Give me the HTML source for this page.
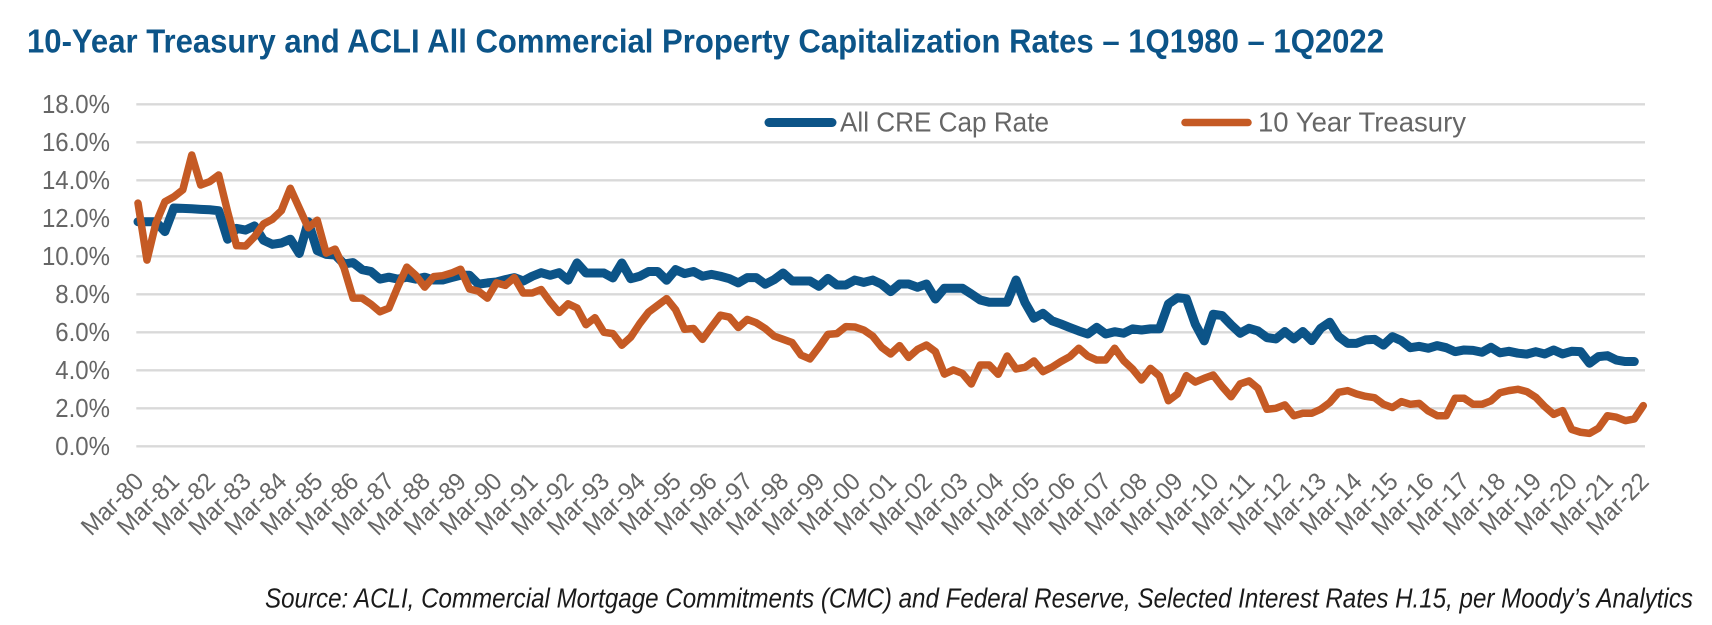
<!DOCTYPE html>
<html lang="en">
<head>
<meta charset="utf-8">
<title>10-Year Treasury and ACLI All Commercial Property Capitalization Rates</title>
<style>
html,body{margin:0;padding:0;background:#fff;width:1712px;height:625px;overflow:hidden}
svg{display:block;font-family:"Liberation Sans",sans-serif}
</style>
</head>
<body>
<svg id="chart" xmlns="http://www.w3.org/2000/svg" width="1712" height="625" viewBox="0 0 1712 625">
  <rect x="0" y="0" width="1712" height="625" fill="#ffffff"/>
  <text x="27" y="52.5" font-size="33" font-weight="700" fill="#0c5488" textLength="1357" lengthAdjust="spacingAndGlyphs">10-Year Treasury and ACLI All Commercial Property Capitalization Rates – 1Q1980 – 1Q2022</text>
  <g id="grid"></g>
  <g id="yaxis"></g>
  <g id="xaxis"></g>
  <g id="series"></g>
  <g>
    <g>
      <line x1="769" y1="122.5" x2="832" y2="122.5" stroke="#0c5488" stroke-width="9" stroke-linecap="round"/>
      <text x="840" y="131.5" font-size="28" fill="#666666" textLength="209" lengthAdjust="spacingAndGlyphs">All CRE Cap Rate</text>
    </g>
    <g>
      <line x1="1185" y1="122.5" x2="1248" y2="122.5" stroke="#c55a24" stroke-width="7.5" stroke-linecap="round"/>
      <text x="1258" y="131.5" font-size="28" fill="#666666" textLength="208" lengthAdjust="spacingAndGlyphs">10 Year Treasury</text>
    </g>
  </g>
  <text x="265" y="607.5" font-size="28" font-style="italic" fill="#1a1a1a" textLength="1428" lengthAdjust="spacingAndGlyphs">Source: ACLI, Commercial Mortgage Commitments (CMC) and Federal Reserve, Selected Interest Rates H.15, per Moody’s Analytics</text>
</svg>
<script>
const capRateValues = [
11.82,11.82,11.82,11.3,12.54,12.52,12.5,12.47,12.45,12.4,
10.9,11.47,11.38,11.6,10.85,10.63,10.7,10.9,10.15,11.82,
10.3,10.1,10.07,9.6,9.67,9.3,9.2,8.8,8.9,8.8,
8.9,8.8,8.9,8.75,8.75,8.88,9.0,9.0,8.53,8.6,
8.65,8.77,8.88,8.7,8.95,9.14,9.0,9.14,8.74,9.65,
9.12,9.12,9.12,8.86,9.65,8.82,8.95,9.2,9.2,8.74,
9.3,9.09,9.2,8.95,9.05,8.95,8.82,8.6,8.88,8.88,
8.53,8.77,9.12,8.7,8.7,8.7,8.42,8.84,8.49,8.49,
8.75,8.63,8.75,8.53,8.14,8.54,8.54,8.37,8.54,7.75,
8.32,8.32,8.32,8.02,7.7,7.58,7.58,7.58,8.75,7.56,
6.74,7.0,6.61,6.44,6.25,6.07,5.91,6.26,5.91,6.03,
5.95,6.18,6.12,6.18,6.18,7.49,7.82,7.77,6.43,5.55,
6.95,6.88,6.39,5.95,6.21,6.07,5.72,5.65,6.04,5.65,
6.04,5.56,6.21,6.53,5.77,5.42,5.42,5.6,5.63,5.33,
5.77,5.56,5.19,5.26,5.16,5.3,5.19,4.98,5.07,5.05,
4.95,5.21,4.92,5.0,4.9,4.85,4.98,4.86,5.07,4.86,
5.0,4.98,4.37,4.72,4.77,4.54,4.46,4.46
];
const treasuryValues = [
12.8,9.8,11.75,12.87,13.13,13.5,15.33,13.75,13.93,14.28,
12.35,10.56,10.54,11.03,11.7,11.95,12.4,13.58,12.54,11.5,
11.9,10.17,10.38,9.38,7.8,7.8,7.48,7.08,7.27,8.4,
9.43,9.0,8.38,8.93,8.98,9.12,9.32,8.28,8.16,7.8,
8.6,8.47,8.88,8.07,8.07,8.25,7.6,7.04,7.5,7.28,
6.4,6.77,6.0,5.93,5.32,5.75,6.46,7.07,7.42,7.77,
7.19,6.16,6.2,5.63,6.28,6.9,6.8,6.25,6.68,6.5,
6.2,5.8,5.63,5.46,4.8,4.6,5.22,5.89,5.93,6.3,
6.28,6.12,5.8,5.21,4.86,5.3,4.68,5.1,5.33,4.98,
3.8,4.02,3.84,3.28,4.28,4.28,3.79,4.75,4.07,4.16,
4.49,3.93,4.16,4.46,4.72,5.16,4.75,4.54,4.54,5.16,
4.51,4.07,3.49,4.1,3.7,2.4,2.75,3.72,3.38,3.58,
3.75,3.14,2.61,3.28,3.44,3.05,1.95,2.0,2.18,1.61,
1.74,1.74,1.95,2.3,2.84,2.93,2.75,2.63,2.56,2.21,
2.04,2.35,2.21,2.26,1.86,1.61,1.61,2.53,2.53,2.21,
2.21,2.39,2.82,2.93,3.0,2.88,2.58,2.09,1.68,1.88,
0.89,0.74,0.68,0.95,1.61,1.53,1.35,1.44,2.14
];
const yTickValues = [0,2,4,6,8,10,12,14,16,18];
const xTickLabels = ["Mar-80","Mar-81","Mar-82","Mar-83","Mar-84","Mar-85","Mar-86","Mar-87","Mar-88","Mar-89","Mar-90","Mar-91","Mar-92","Mar-93","Mar-94","Mar-95","Mar-96","Mar-97","Mar-98","Mar-99","Mar-00","Mar-01","Mar-02","Mar-03","Mar-04","Mar-05","Mar-06","Mar-07","Mar-08","Mar-09","Mar-10","Mar-11","Mar-12","Mar-13","Mar-14","Mar-15","Mar-16","Mar-17","Mar-18","Mar-19","Mar-20","Mar-21","Mar-22"];
const quartersPerTick = 4;

const NS = 'http://www.w3.org/2000/svg';
const plotLeft = 136.3, plotRight = 1645;
const firstX = 138, stepX = 8.96;
const zeroY = 446.3, pxPerUnit = 19;
function xScale(i) { return firstX + stepX * i; }
function yScale(v) { return zeroY - pxPerUnit * v; }
function make(tag, attrs) {
  const el = document.createElementNS(NS, tag);
  for (const k in attrs) el.setAttribute(k, attrs[k]);
  return el;
}
const grid = document.getElementById('grid');
const yaxis = document.getElementById('yaxis');
const xaxis = document.getElementById('xaxis');
const series = document.getElementById('series');

yTickValues.forEach(function (v) {
  const y = yScale(v);
  const line = make('line', {x1: plotLeft, x2: plotRight, y1: y, y2: y, stroke: '#d9d9d9', 'stroke-width': 2.4});
  
  
  grid.appendChild(line);
  const t = make('text', {x: 110, y: y + 8.6, 'text-anchor': 'end', 'font-size': 25.5, fill: '#666666'});
  
  
  t.textContent = v.toFixed(1) + '%';
  yaxis.appendChild(t);
  t.setAttribute('textLength', (t.getComputedTextLength() * 24 / 25.5).toFixed(2));
  t.setAttribute('lengthAdjust', 'spacingAndGlyphs');
});

xTickLabels.forEach(function (label, n) {
  const x = xScale(n * quartersPerTick) + 7;
  const y = 483;
  const t = make('text', {x: x, y: y, 'text-anchor': 'end', 'font-size': 25, fill: '#666666', textLength: 76, lengthAdjust: 'spacingAndGlyphs', transform: 'rotate(-45 ' + x + ' ' + y + ')'});
  
  
  t.textContent = label;
  xaxis.appendChild(t);
});

function linePath(values) {
  return values.map(function (v, i) {
    return (i ? 'L' : 'M') + xScale(i).toFixed(2) + ' ' + yScale(v).toFixed(2);
  }).join(' ');
}
const capLine = make('path', {d: linePath(capRateValues), fill: 'none', stroke: '#0c5488', 'stroke-width': 9, 'stroke-linejoin': 'round', 'stroke-linecap': 'round'});


series.appendChild(capLine);
const tsyLine = make('path', {d: linePath(treasuryValues), fill: 'none', stroke: '#c55a24', 'stroke-width': 7.5, 'stroke-linejoin': 'round', 'stroke-linecap': 'round'});


series.appendChild(tsyLine);
</script>
</body>
</html>
